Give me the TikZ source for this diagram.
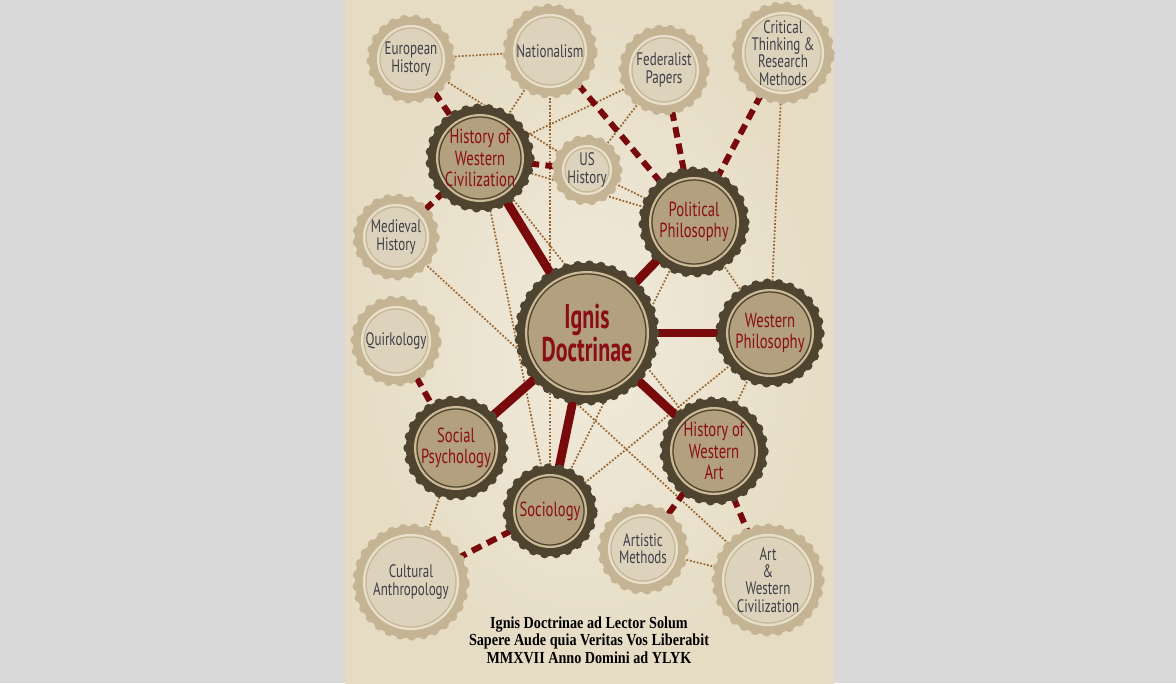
\documentclass[tikz,border=0pt]{standalone}
\usepackage{fontspec}
\setmainfont{PT Sans}[FakeStretch=0.72]
\newfontfamily\titlefont{PT Sans}[FakeStretch=0.64]
\newfontfamily\mottofont{Liberation Serif}[FakeStretch=0.84]
\usetikzlibrary{positioning}

\definecolor{pagegray}{HTML}{D9D9D9}
\definecolor{paperin}{HTML}{F1EBDC}
\definecolor{paperout}{HTML}{E6DCC4}
\definecolor{darkband}{HTML}{4E4430}
\definecolor{darkfill}{HTML}{B2A07E}
\definecolor{darkring}{HTML}{CDBB97}
\definecolor{lightband}{HTML}{C4B493}
\definecolor{lightfill}{HTML}{DDD3BC}
\definecolor{lightring}{HTML}{E9E0CC}
\definecolor{inkred}{HTML}{8A0E16}
\definecolor{inkgray}{HTML}{3E3F48}
\definecolor{linkred}{HTML}{780A0C}
\definecolor{dotbrown}{HTML}{98652F}

\pgfdeclarelayer{paper}
\pgfdeclarelayer{links}
\pgfsetlayers{paper,links,main}

\tikzset{
  capdark/.style={circle, inner sep=0pt, minimum size=#1*0.04cm, fill=darkband, align=center,
    text=inkred, font=\fontsize{11.6}{12.2}\selectfont,
    preaction={draw=darkband, line width=5.4pt, line cap=round, dash pattern=on 0pt off 6.6pt},
    preaction={draw=darkband, line width=2.4pt},
    path picture={
      \fill[darkfill, draw=darkring, line width=1.1pt] (path picture bounding box.center) circle ({(#1-7)*0.02cm});
      \draw[darkband, line width=0.7pt] (path picture bounding box.center) circle ({(#1-9)*0.02cm});}},
  caplight/.style={circle, inner sep=0pt, minimum size=#1*0.04cm, fill=lightband, align=center,
    text=inkgray, font=\fontsize{10.3}{9.8}\selectfont,
    preaction={draw=lightband, line width=5.4pt, line cap=round, dash pattern=on 0pt off 6.6pt},
    preaction={draw=lightband, line width=2.4pt},
    path picture={
      \fill[lightfill, draw=lightring, line width=1.2pt] (path picture bounding box.center) circle ({(#1-7)*0.02cm});
      \draw[lightband, line width=0.6pt] (path picture bounding box.center) circle ({(#1-9)*0.02cm});}},
  title/.style={font=\titlefont\fontsize{19.5}{15.5}\selectfont\bfseries},
  motto/.style={align=center, font=\mottofont\fontsize{9.6}{10}\selectfont\bfseries},
  solidlink/.style={draw=linkred, line width=5pt},
  dashlink/.style={draw=linkred, line width=3.4pt, dash pattern=on 6pt off 3.6pt},
  dotlink/.style={draw=dotbrown, line width=1pt, dash pattern=on 1pt off 1pt}
}

\begin{document}
\begin{tikzpicture}[x=0.02cm,y=-0.02cm]

\useasboundingbox (0,0) rectangle (1176,683);
\begin{pgfonlayer}{paper}
  \fill[pagegray] (0,0) rectangle (1176,683);
  \shade[inner color=paperin, outer color=paperout] (345,0) rectangle (834,683);
\end{pgfonlayer}

% Top row: light caps
\node[caplight=40] (euro) at (411,59) {European\\History};
\node[caplight=43] (nat) at (550,51) {Nationalism};
\node[caplight=41] (fed) at (664,70) {Federalist\\Papers};
\node[caplight=47] (crit) at (783,53) {Critical\\Thinking \&\\Research\\Methods};

% Second row
\node[capdark=50] (hwc) at (480,158) {History of\\Western\\Civilization};
\node[caplight=31] (ushist) at (587,170) {US\\History};
\node[capdark=51] (polphil) at (694,222) {Political\\Philosophy};
\node[caplight=39] (medieval) at (396,237) {Medieval\\History};

% Centre row
\node[capdark=68, title] (ignis) at (587,333) {Ignis\\Doctrinae};
\node[caplight=41] (quirk) at (396,341) {Quirkology};
\node[capdark=50] (westphil) at (770,333) {Western\\Philosophy};

% Lower rows
\node[capdark=48] (socpsy) at (456,448) {Social\\Psychology};
\node[capdark=50] (artwest) at (714,451) {History of\\Western\\Art};
\node[capdark=43] (sociology) at (550,511) {Sociology};
\node[caplight=41] (artmeth) at (643,549) {Artistic\\Methods};
\node[caplight=54] (cultanth) at (411,582) {Cultural\\Anthropology};
\node[caplight=52] (artciv) at (768,580) {Art\\\&\\Western\\Civilization};

% Motto
\node[motto] (mottotext) at (589,640) {Ignis Doctrinae ad Lector Solum\\
  Sapere Aude quia Veritas Vos Liberabit\\
  MMXVII Anno Domini ad YLYK};

\begin{pgfonlayer}{links}
% Dotted cross links
\draw[dotlink] (euro) -- (nat);
\draw[dotlink] (euro) -- (ushist);
\draw[dotlink] (nat) -- (hwc);
\draw[dotlink] (nat) -- (sociology);
\draw[dotlink] (fed) -- (hwc);
\draw[dotlink] (fed) -- (ushist);
\draw[dotlink] (hwc) -- (polphil);
\draw[dotlink] (ushist) -- (polphil);
\draw[dotlink] (hwc) -- (sociology);
\draw[dotlink] (hwc) -- (artwest);
\draw[dotlink] (polphil) -- (sociology);
\draw[dotlink] (polphil) -- (westphil);
\draw[dotlink] (crit) -- (westphil);
\draw[dotlink] (westphil) -- (sociology);
\draw[dotlink] (westphil) -- (artwest);
\draw[dotlink] (medieval) -- (artciv);
\draw[dotlink] (artmeth) -- (artciv);
\draw[dotlink] (socpsy) -- (cultanth);

% Dashed links to the outer topics
\draw[dashlink] (euro) -- (hwc);
\draw[dashlink] (medieval) -- (hwc);
\draw[dashlink] (ushist) -- (hwc);
\draw[dashlink] (nat) -- (polphil);
\draw[dashlink] (fed) -- (polphil);
\draw[dashlink] (crit) -- (polphil);
\draw[dashlink] (quirk) -- (socpsy);
\draw[dashlink] (sociology) -- (cultanth);
\draw[dashlink] (artwest) -- (artmeth);
\draw[dashlink] (artwest) -- (artciv);

% Solid links from the centre
\draw[solidlink] (ignis) -- (hwc);
\draw[solidlink] (ignis) -- (polphil);
\draw[solidlink] (ignis) -- (westphil);
\draw[solidlink] (ignis) -- (artwest);
\draw[solidlink] (ignis) -- (socpsy);
\draw[solidlink] (ignis) -- (sociology);
\end{pgfonlayer}

\end{tikzpicture}
\end{document}
